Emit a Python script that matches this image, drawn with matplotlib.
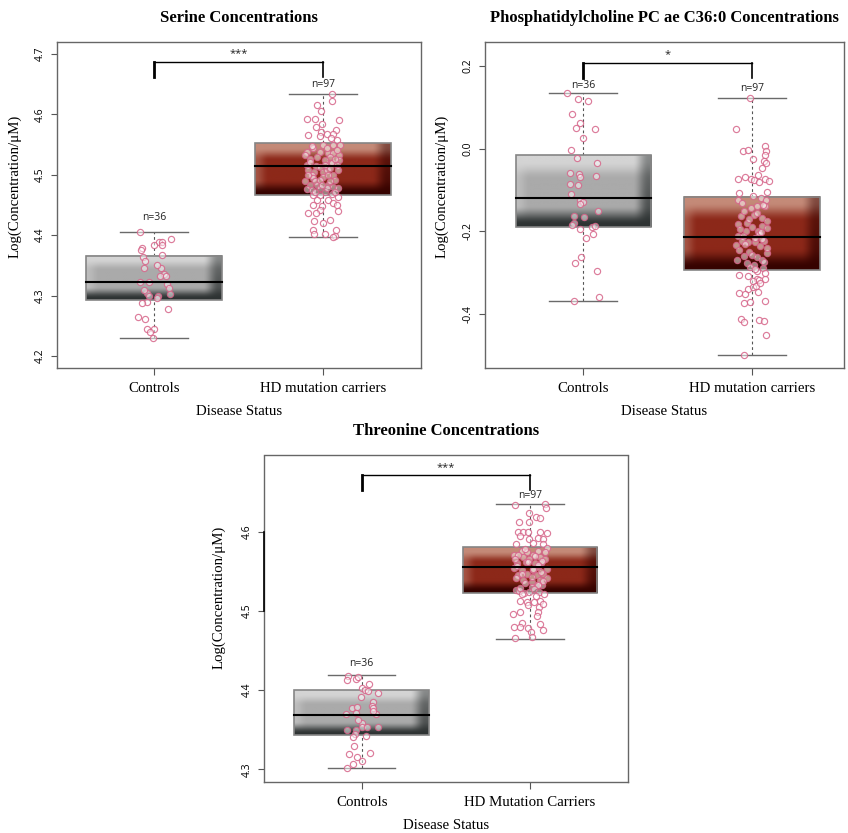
import numpy as np
import matplotlib
matplotlib.use("Agg")
import matplotlib.pyplot as plt
from matplotlib.patches import Rectangle

# ---------------- data ----------------
groups_a = ["Controls", "HD mutation carriers"]
groups_b = ["Controls", "HD Mutation Carriers"]
n_labels = ["n=36", "n=97"]
titles = ["Serine Concentrations",
          "Phosphatidylcholine PC ae C36:0 Concentrations",
          "Threonine Concentrations"]
sig_labels = ["***", "*", "***"]

# box stats per group: [lower whisker, q1, median, q3, upper whisker]
ser_box = [[4.229, 4.293, 4.322, 4.366, 4.405], [4.397, 4.467, 4.514, 4.552, 4.634]]
pc_box = [[-0.368, -0.189, -0.118, -0.015, 0.135], [-0.499, -0.294, -0.213, -0.117, 0.123]]
thr_box = [[4.3015, 4.343, 4.369, 4.3995, 4.419], [4.465, 4.523, 4.555, 4.581, 4.635]]

# Serine points
ser_ctrl_vals = [4.405, 4.393, 4.388, 4.388, 4.383, 4.383, 4.379, 4.375, 4.368, 4.364, 4.358, 4.345,
                 4.346, 4.336, 4.333, 4.323, 4.322, 4.319, 4.312, 4.302, 4.305, 4.299, 4.299, 4.290,
                 4.287, 4.278, 4.265, 4.261, 4.244, 4.244, 4.239, 4.229, 4.332, 4.310, 4.296, 4.350]
ser_ctrl_jit = [-0.083, 0.099, 0.030, 0.050, 0.000, 0.047, -0.071, -0.079, 0.050, -0.067, -0.053, -0.059,
                0.040, 0.061, 0.037, -0.085, -0.031, 0.079, 0.087, 0.095, -0.043, -0.031, 0.026, -0.043,
                -0.073, 0.083, -0.093, -0.055, -0.043, 0.000, -0.022, -0.008, 0.070, -0.060, 0.015, 0.020]
ser_hd_vals = [4.634, 4.623, 4.616, 4.606, 4.593, 4.592, 4.590, 4.585, 4.580, 4.571, 4.566, 4.574,
               4.567, 4.567, 4.561, 4.565, 4.558, 4.550, 4.549, 4.549, 4.544, 4.538, 4.533, 4.536,
               4.536, 4.533, 4.527, 4.530, 4.516, 4.515, 4.513, 4.519, 4.525, 4.519, 4.516, 4.508,
               4.504, 4.504, 4.508, 4.500, 4.494, 4.489, 4.489, 4.497, 4.500, 4.491, 4.483, 4.483,
               4.483, 4.478, 4.480, 4.476, 4.478, 4.472, 4.469, 4.467, 4.467, 4.464, 4.458, 4.458,
               4.454, 4.450, 4.449, 4.450, 4.442, 4.440, 4.436, 4.436, 4.425, 4.424, 4.420, 4.409,
               4.409, 4.402, 4.402, 4.399, 4.397, 4.547, 4.544, 4.541, 4.538, 4.525, 4.522, 4.527,
               4.530, 4.511, 4.508, 4.500, 4.491, 4.489, 4.475, 4.478, 4.483, 4.472, 4.472, 4.500, 4.516]
ser_hd_jit = [0.055, 0.055, -0.037, -0.014, -0.093, -0.047, 0.095, -0.004, -0.041, -0.010, -0.087, 0.077,
              0.022, 0.061, 0.045, -0.018, 0.081, 0.101, -0.002, 0.061, -0.057, -0.097, -0.107, 0.032,
              0.061, 0.097, -0.077, 0.041, -0.097, -0.041, -0.018, 0.041, 0.097, 0.051, 0.081, -0.087,
              -0.053, -0.002, 0.022, -0.067, -0.057, -0.107, -0.047, 0.002, 0.061, 0.071, -0.077, -0.037,
              0.032, -0.018, 0.061, -0.097, 0.091, 0.012, 0.051, -0.057, -0.018, 0.091, -0.037, 0.032,
              0.061, -0.057, -0.008, 0.081, -0.018, 0.091, -0.087, -0.041, 0.041, -0.053, -0.002, -0.057,
              0.077, -0.053, 0.012, 0.071, 0.061, -0.067, 0.022, 0.081, -0.018, 0.012, -0.077, 0.071,
              -0.037, 0.041, 0.091, -0.087, -0.018, 0.041, -0.067, 0.022, -0.008, 0.071, -0.047, 0.032, 0.012]

# PC ae C36:0 points
pc_ctrl_vals = [0.135, 0.121, 0.116, 0.085, 0.061, 0.050, 0.047, 0.027, -0.004, -0.022, -0.034, -0.059,
                -0.060, -0.069, -0.065, -0.086, -0.087, -0.109, -0.125, -0.128, -0.133, -0.150, -0.163,
                -0.164, -0.179, -0.185, -0.189, -0.187, -0.195, -0.205, -0.215, -0.261, -0.277, -0.296,
                -0.358, -0.367]
pc_ctrl_jit = [-0.097, -0.032, 0.028, -0.065, -0.018, -0.042, 0.071, -0.002, -0.073, -0.034, 0.083, -0.077,
               -0.026, -0.018, 0.075, -0.077, -0.032, -0.071, -0.018, 0.002, -0.018, 0.089, -0.051,
               0.008, -0.051, -0.063, 0.051, 0.071, -0.016, 0.061, 0.016, -0.014, -0.047, 0.081,
               0.097, -0.055]
pc_hd_vals = [0.123, 0.047, -0.0065, -0.004, 0.006, -0.006, -0.016, -0.024, -0.030, -0.034, -0.046, -0.063,
              -0.074, -0.069, -0.074, -0.076, -0.081, -0.074, -0.078, -0.107, -0.115, -0.118, -0.123, -0.123,
              -0.143, -0.139, -0.139, -0.163, -0.161, -0.167, -0.183, -0.179, -0.187, -0.199, -0.199, -0.191,
              -0.211, -0.211, -0.207, -0.202, -0.232, -0.223, -0.226, -0.225, -0.223, -0.244, -0.250, -0.256,
              -0.252, -0.277, -0.280, -0.268, -0.274, -0.306, -0.308, -0.296, -0.314, -0.316, -0.319, -0.318,
              -0.338, -0.334, -0.331, -0.348, -0.351, -0.347, -0.373, -0.370, -0.368, -0.411, -0.418, -0.413,
              -0.417, -0.451, -0.499,
              -0.130, -0.135, -0.150, -0.155, -0.170, -0.175, -0.190, -0.195, -0.215, -0.218, -0.230,
              -0.235, -0.240, -0.260, -0.262, -0.270, -0.285, -0.288, -0.290, -0.300, -0.325, -0.105]
pc_hd_jit = [-0.012, -0.097, -0.051, -0.024, 0.077, 0.085, 0.077, 0.006, 0.071, 0.085, 0.057, 0.034,
             -0.081, -0.042, -0.008, 0.012, 0.043, 0.075, 0.101, -0.079, 0.006, 0.051, -0.085, 0.081,
             -0.004, 0.032, 0.077, -0.063, 0.012, 0.057, -0.081, -0.028, 0.061, -0.038, 0.038, 0.087,
             -0.083, -0.051, 0.042, 0.051, -0.097, -0.061, -0.024, 0.018, 0.071, -0.077, -0.018, 0.002,
             0.087, -0.032, 0.012, 0.061, 0.071, -0.077, -0.024, 0.032, 0.077, 0.032, 0.008, 0.043,
             -0.022, 0.006, 0.022, -0.075, -0.043, 0.036, -0.045, -0.012, 0.075, -0.063, -0.047, 0.042,
             0.073, 0.085, -0.045,
             -0.060, 0.065, -0.045, 0.030, -0.020, 0.090, 0.000, -0.070, 0.020, 0.060, -0.040,
             0.045, 0.090, -0.050, 0.030, -0.090, -0.010, 0.065, 0.020, 0.080, 0.050, 0.090]

# Threonine points
thr_ctrl_vals = [4.418, 4.413, 4.414, 4.417, 4.408, 4.403, 4.400, 4.399, 4.396, 4.391, 4.385, 4.380,
                 4.378, 4.379, 4.377, 4.370, 4.371, 4.370, 4.359, 4.354, 4.354, 4.353, 4.349, 4.349,
                 4.345, 4.341, 4.342, 4.330, 4.319, 4.320, 4.315, 4.311, 4.307, 4.3015, 4.362, 4.374]
thr_ctrl_jit = [-0.079, -0.085, -0.036, -0.024, 0.044, 0.004, 0.018, 0.040, 0.099, -0.004, 0.065, 0.061,
                -0.059, -0.030, 0.065, -0.095, -0.034, 0.083, 0.000, 0.004, 0.030, 0.099, -0.089, -0.034,
                -0.040, -0.053, 0.024, -0.044, -0.077, 0.051, -0.026, 0.004, -0.053, -0.089, -0.020, 0.070]
thr_hd_vals = [4.634, 4.635, 4.630, 4.623, 4.619, 4.617, 4.612, 4.612, 4.600, 4.599, 4.600, 4.600,
               4.598, 4.595, 4.591, 4.592, 4.591, 4.584, 4.585, 4.584, 4.579, 4.576, 4.574, 4.570,
               4.576, 4.570, 4.568, 4.566, 4.568, 4.566, 4.560, 4.562, 4.560, 4.560, 4.554, 4.552,
               4.551, 4.555, 4.553, 4.545, 4.546, 4.545, 4.546, 4.539, 4.537, 4.539, 4.541, 4.526,
               4.523, 4.530, 4.533, 4.532, 4.525, 4.524, 4.524, 4.521, 4.512, 4.511, 4.511, 4.512,
               4.507, 4.505, 4.508, 4.499, 4.499, 4.496, 4.494, 4.485, 4.484, 4.480, 4.480, 4.478,
               4.476, 4.473, 4.466, 4.467,
               4.578, 4.574, 4.571, 4.569, 4.566, 4.563, 4.561, 4.558, 4.556, 4.553, 4.549, 4.547,
               4.543, 4.541, 4.538, 4.535, 4.532, 4.529, 4.527, 4.521, 4.519]
thr_hd_jit = [-0.091, 0.089, 0.095, -0.004, 0.034, 0.059, -0.065, -0.008, -0.069, -0.040, -0.014, 0.059,
              0.099, -0.059, -0.004, 0.046, 0.079, -0.083, 0.020, 0.075, 0.099, -0.050, -0.020, 0.016,
              0.050, -0.095, -0.040, -0.004, 0.059, 0.089, -0.079, -0.024, 0.030, 0.063, -0.093, -0.050,
              0.016, 0.050, 0.099, -0.069, -0.016, 0.040, 0.079, -0.040, 0.010, 0.059, 0.099, -0.083,
              -0.036, 0.010, 0.040, 0.069, -0.063, -0.004, 0.055, 0.085, -0.059, -0.020, 0.026, 0.059,
              -0.014, 0.055, 0.079, -0.059, 0.050, -0.099, 0.040, -0.050, 0.059, -0.095, -0.059, -0.010,
              0.075, 0.004, -0.089, 0.014,
              -0.030, 0.090, -0.070, 0.030, -0.090, 0.070, -0.010, 0.045, -0.075, 0.020, 0.065, -0.045,
              0.010, -0.085, 0.080, -0.030, 0.050, -0.060, 0.025, -0.050, 0.035]

# y-axis setup per panel
ser_yticks = [4.2, 4.3, 4.4, 4.5, 4.6, 4.7]
pc_yticks = [-0.4, -0.2, 0.0, 0.2]
thr_yticks = [4.3, 4.4, 4.5, 4.6]

# annotation levels: [bracket top, bracket leg end, star baseline]
ser_sig = [4.687, 4.662, 4.697]
pc_sig = [0.207, 0.172, 0.222]
thr_sig = [4.671, 4.652, 4.678]
# n-label centres
ser_nlab = [4.430, 4.650]
pc_nlab = [0.152, 0.146]
thr_nlab = [4.433, 4.645]

# ---------------- styling ----------------
W, H = 848, 833
SERIF = ["Liberation Serif", "DejaVu Serif"]
SANS = ["Open Sans", "DejaVu Sans"]

gray_cols = ("#d4d4d4", "#aaaaaa", "#2e3333")
red_cols = ("#c48a78", "#8c2819", "#360300")


def hex2rgb(h):
    h = h.lstrip("#")
    return np.array([int(h[i:i + 2], 16) / 255 for i in (0, 2, 4)])


def smooth(a, b, x):
    t = np.clip((x - a) / (b - a), 0, 1)
    return t * t * (3 - 2 * t)


def gradient(cols, ny=80, nx=120):
    light, mid, dark = (hex2rgb(c) for c in cols)
    t = np.linspace(1, 0, ny)[:, None]  # top row = 1
    s = np.linspace(0, 1, nx)[None, :]
    img = np.ones((ny, nx, 3)) * mid
    w_top = smooth(0.66, 0.92, t)[..., None] * np.ones((1, nx, 1))
    img = img * (1 - w_top) + light * w_top
    w_left = ((1 - smooth(0.0, 0.10, s)) * 0.45)[..., None] * np.ones((ny, 1, 1))
    img = img * (1 - w_left) + light * w_left
    w_right = (smooth(0.86, 0.98, s) * (0.45 + 0.4 * (1 - t)))[..., None]
    img = img * (1 - w_right) + dark * w_right
    w_bot = (1 - smooth(0.03, 0.30, t))[..., None] * np.ones((1, nx, 1))
    img = img * (1 - w_bot) + dark * w_bot
    return np.clip(img, 0, 1)


def draw_panel(ax, title, cats, box, pts, yticks, ylim, xlim, sig, sig_txt, nlab, ylab_xy):
    fills = [gray_cols, red_cols]
    for i, st in enumerate(box):
        x = i + 1
        lo, q1, med, q3, hi = st
        # whiskers
        ax.plot([x, x], [q3, hi], color="#555555", lw=0.8, ls=(0, (2.5, 2.5)), zorder=1)
        ax.plot([x, x], [lo, q1], color="#555555", lw=0.8, ls=(0, (2.5, 2.5)), zorder=1)
        ax.plot([x - 0.2, x + 0.2], [hi, hi], color="#6a6a6a", lw=1.0, zorder=1)
        ax.plot([x - 0.2, x + 0.2], [lo, lo], color="#6a6a6a", lw=1.0, zorder=1)
        # gradient box
        ax.imshow(gradient(fills[i]), extent=[x - 0.4, x + 0.4, q1, q3], aspect="auto",
                  interpolation="bilinear", zorder=2)
        ax.add_patch(Rectangle((x - 0.4, q1), 0.8, q3 - q1, fill=False, ec="#858585", lw=1.2, zorder=2.5))
        # points
        vals, jit = pts[i]
        ax.scatter(np.array(jit) + x, vals, s=20, facecolors=(1, 1, 1, 0.5),
                   edgecolors=(0.84, 0.40, 0.54, 0.85), linewidths=0.85, zorder=3)
        ax.plot([x - 0.4, x + 0.4], [med, med], color="black", lw=1.5, zorder=4)
        ax.text(x, nlab[i], n_labels[i], ha="center", va="center", fontsize=7.5, family=SANS,
                color="#222222", zorder=5)
    # significance bracket
    top, leg, star = sig
    ax.plot([1, 2], [top, top], color="black", lw=1.0, zorder=5)
    ax.plot([1, 1], [top, leg], color="black", lw=2.0, zorder=5)
    ax.plot([2, 2], [top, leg], color="black", lw=1.2, zorder=5)
    ax.text(1.5, star, sig_txt, ha="center", va="baseline", fontsize=8, family=SANS, color="#222222")

    ax.set_xlim(*xlim)
    ax.set_ylim(*ylim)
    ax.set_xticks([1, 2])
    ax.set_xticklabels(cats, family=SERIF, fontsize=10.7)
    ax.set_yticks(yticks)
    ax.set_yticklabels([f"{v:.1f}" for v in yticks], family=SANS, fontsize=7.5, rotation=90, va="center")
    ax.tick_params(axis="x", length=5, width=0.8, color="#555555", pad=5)
    ax.tick_params(axis="y", length=4, width=0.8, color="#555555", pad=4)
    for sp in ax.spines.values():
        sp.set_color("#666666")
        sp.set_linewidth(1.0)
    ax.set_title(title, family=SERIF, fontweight="bold", fontsize=12, pad=14.5)
    ax.set_xlabel("Disease Status", family=SERIF, fontsize=10.7, labelpad=7.5)
    ax.set_ylabel("Log(Concentration/\u03bcM)", family=SERIF, fontsize=10.7)
    ax.yaxis.set_label_coords(*ylab_xy)


fig = plt.figure(figsize=(W / 100, H / 100), dpi=100)
ax1 = fig.add_axes([57 / W, 1 - 368 / H, 364 / W, 326 / H])
ax2 = fig.add_axes([485 / W, 1 - 368 / H, 359 / W, 326 / H])
ax3 = fig.add_axes([264 / W, 1 - 782 / H, 364 / W, 326.5 / H])

draw_panel(ax1, titles[0], groups_a, ser_box,
           [(ser_ctrl_vals, ser_ctrl_jit), (ser_hd_vals, ser_hd_jit)],
           ser_yticks, (4.18, 4.72), (0.426, 2.58), ser_sig, sig_labels[0], ser_nlab, (-0.098, 0.558))
draw_panel(ax2, titles[1], groups_a, pc_box,
           [(pc_ctrl_vals, pc_ctrl_jit), (pc_hd_vals, pc_hd_jit)],
           pc_yticks, (-0.53, 0.258), (0.419, 2.545), pc_sig, sig_labels[1], pc_nlab, (-0.100, 0.558))
draw_panel(ax3, titles[2], groups_b, thr_box,
           [(thr_ctrl_vals, thr_ctrl_jit), (thr_hd_vals, thr_hd_jit)],
           thr_yticks, (4.284, 4.696), (0.42, 2.582), thr_sig, sig_labels[2], thr_nlab, (-0.106, 0.564))
ax3.plot([0, 0], [4.5, 4.6], transform=ax3.get_yaxis_transform(), color="black", lw=1.2,
         clip_on=False, zorder=6)

fig.savefig("out.png", dpi=100)
